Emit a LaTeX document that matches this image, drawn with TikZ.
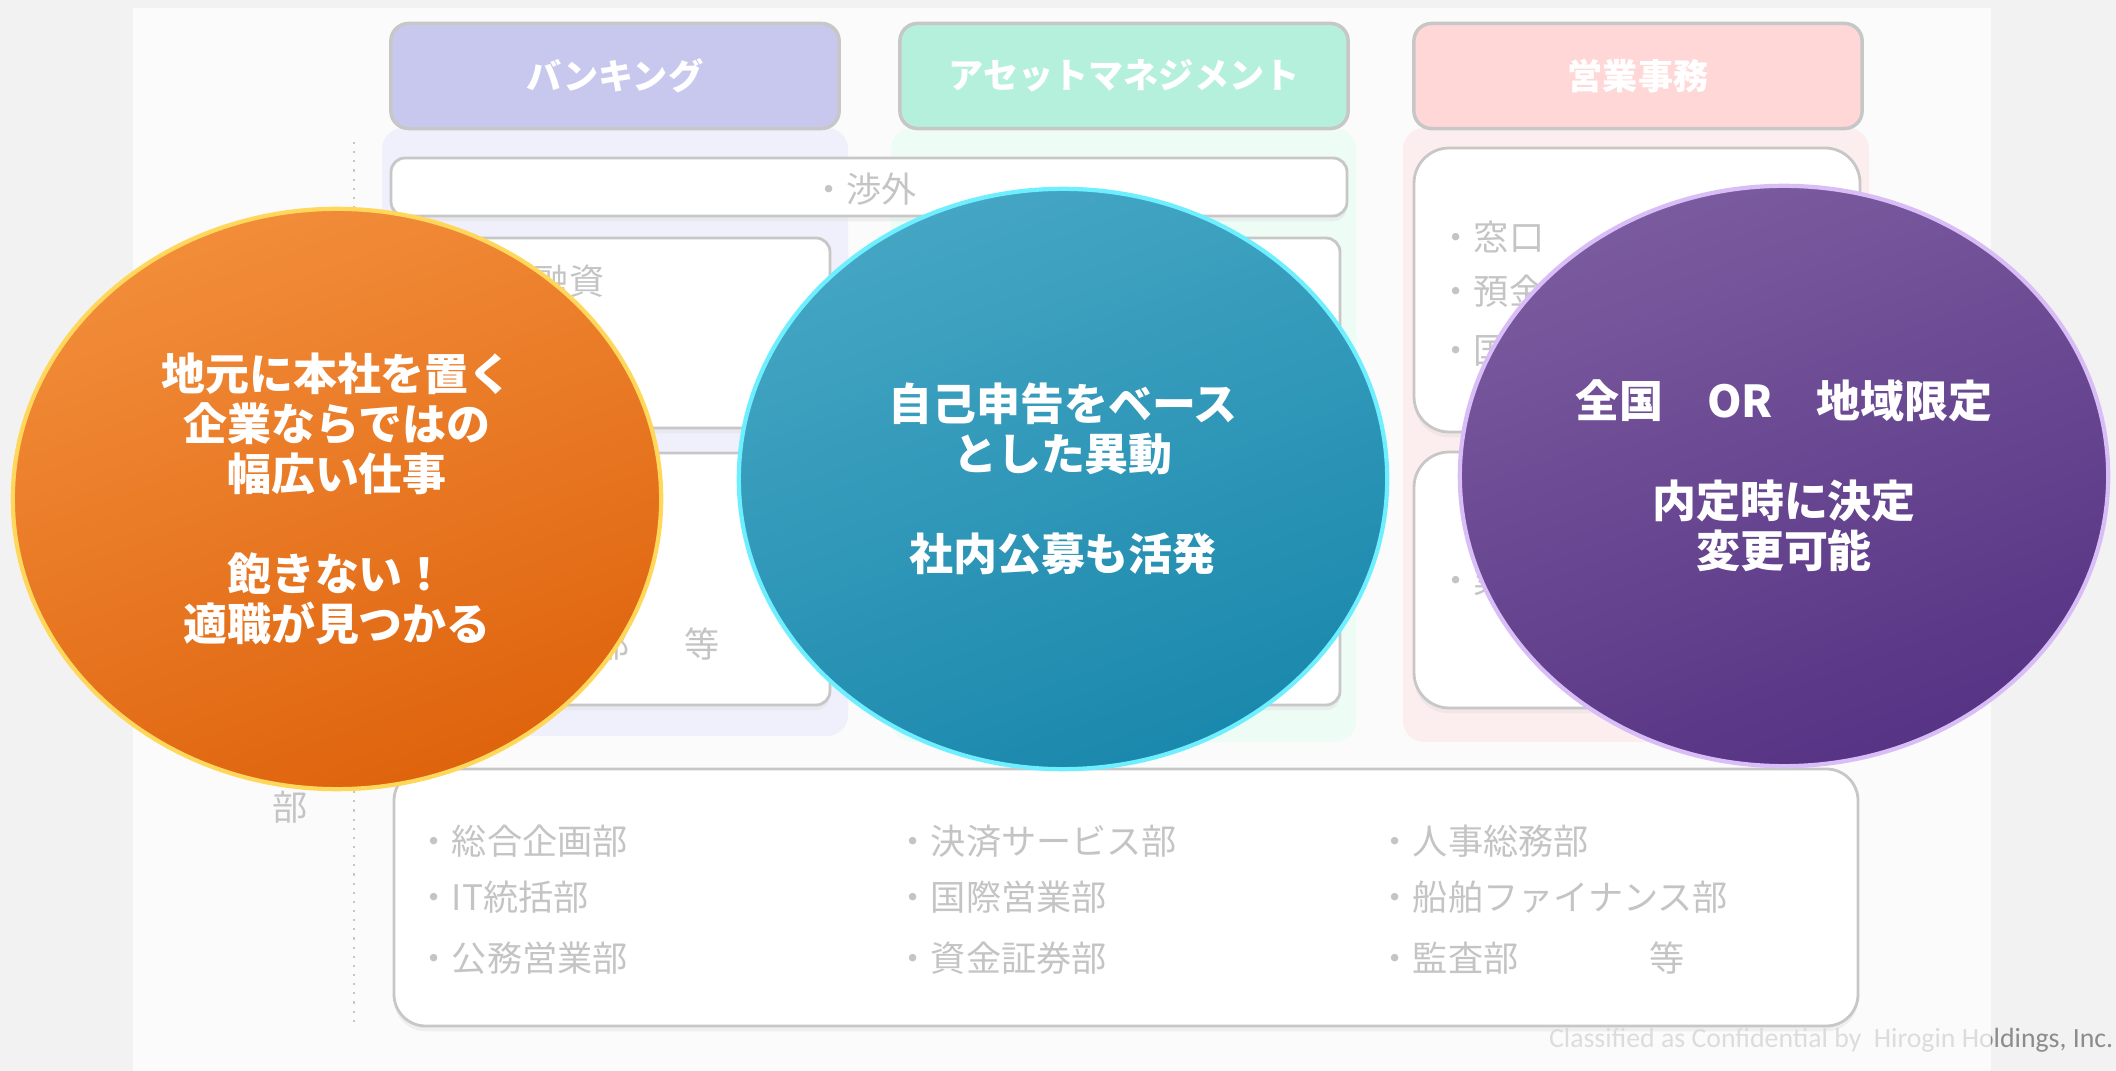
\documentclass[tikz,border=0pt]{standalone}
\usepackage{fontspec}
\setsansfont{Carlito}
\newfontfamily\jp{Noto Sans CJK JP}
\usetikzlibrary{shapes.geometric,shadows}
% colours under the white veil
\definecolor{pagebg}{HTML}{F2F2F2}
\definecolor{bankhd}{RGB}{72,72,200}
\definecolor{assethd}{RGB}{5,205,138}
\definecolor{saleshd}{RGB}{255,122,122}
\definecolor{bankcol}{RGB}{205,205,245}
\definecolor{assetcol}{RGB}{198,245,225}
\definecolor{salescol}{RGB}{248,198,198}
\definecolor{boxline}{RGB}{70,70,70}
\definecolor{boxtext}{RGB}{60,60,60}
\definecolor{foot}{RGB}{140,140,140}
% bubbles
\definecolor{orgtop}{HTML}{F28D3A}
\definecolor{orgbot}{HTML}{DF630D}
\definecolor{orgedge}{HTML}{FFD75A}
\definecolor{teatop}{HTML}{45A6C4}
\definecolor{teabot}{HTML}{1A88AC}
\definecolor{teaedge}{HTML}{6EEFFF}
\definecolor{purtop}{HTML}{7B5B9F}
\definecolor{purbot}{HTML}{563384}
\definecolor{puredge}{HTML}{D9BDF7}
\tikzset{
  head/.style={draw=boxline, line width=1pt, rounded corners=5pt, minimum width=4.48cm,
    minimum height=1.05cm, text=white, font=\jp\bfseries\fontsize{10pt}{12pt}\selectfont},
  colbg/.style={rounded corners=6pt},
  box/.style={draw=boxline, fill=white, line width=.8pt, rounded corners=4pt,
    drop shadow={shadow xshift=0pt, shadow yshift=-1.5pt, opacity=.35}},
  item/.style={anchor=west, inner sep=0pt, text=boxtext, font=\jp\fontsize{10pt}{12pt}\selectfont},
  bubble/.style={ellipse, minimum width=6.48cm, minimum height=5.8cm, inner sep=0pt,
    align=center, text=white, line width=1.2pt,
    font=\jp\bfseries\fontsize{12.5pt}{14.2pt}\selectfont}
}
\begin{document}
\begin{tikzpicture}[x=0.01cm, y=-0.01cm, line join=round]
	\useasboundingbox (0,0) rectangle (2116,1071);
	\fill[pagebg] (0,0) rectangle (2116,1071);
	% columns
	\fill[colbg, bankcol] (382,128) rectangle (848,736);
	\fill[colbg, assetcol] (891,128) rectangle (1356,742);
	\fill[colbg, salescol] (1403,128) rectangle (1869,742);
	\node[head, fill=bankhd] (bank) at (615,76) {バンキング};
	\node[head, fill=assethd] (asset) at (1124,76) {アセットマネジメント};
	\node[head, fill=saleshd] (sales) at (1638,76) {営業事務};
	% boxes
	\draw[box] (391,158) rectangle (1347,216);
	\draw[box] (391,238) rectangle (830,428);
	\draw[box] (391,453) rectangle (830,705);
	\draw[box] (900,238) rectangle (1340,705);
	\draw[box, rounded corners=10pt] (1414,148) rectangle (1860,432);
	\draw[box, rounded corners=10pt] (1414,452) rectangle (1860,708);
	\draw[box, rounded corners=9pt] (394,769) rectangle (1858,1026);
	\draw[boxline, dotted, line width=.6pt] (354,142) -- (354,1026);
	% items
	\node[item, anchor=center] (shogai) at (864,189) {・渉外};
	\node[item] (yushi) at (498,281) {・融資};
	\node[item] (bu) at (594,644) {部\hspace{.55cm}等};
	\foreach \n/\t/\y in {mado/窓口/237, yokin/預金/291, koku/国/351}
		\node[item] (\n) at (1438,\y) {・\t};
	\node[item] (gyo) at (1438,580) {・業務};
	\node[item, anchor=center] (hq) at (290,807) {部};
	\foreach \n/\t/\x/\y in {b1/総合企画部/416/841, b2/IT統括部/416/897, b3/公務営業部/416/958,
		b4/決済サービス部/895/841, b5/国際営業部/895/897, b6/資金証券部/895/958,
		b7/人事総務部/1377/841, b8/船舶ファイナンス部/1377/897, b9/監査部/1377/958}
		\node[item] (\n) at (\x,\y) {・\t};
	\node[item] (etc) at (1649,958) {等};
	\node[anchor=east, inner sep=0pt, text=foot, font=\sffamily\fontsize{7.9pt}{9pt}\selectfont] (conf)
		at (2114,1040) {Classified as Confidential by\ \ Hirogin Holdings, Inc.};
	% veil
	\fill[white, opacity=.7] (133,8) rectangle (1991,1071);
	% bubbles
	\node[bubble, top color=orgtop, bottom color=orgbot, shading angle=20, draw=orgedge] (local) at (337,499)
		{地元に本社を置く\\企業ならではの\\幅広い仕事\\[.5cm]飽きない！\\適職が見つかる};
	\node[bubble, top color=teatop, bottom color=teabot, shading angle=20, draw=teaedge] (move) at (1063,479)
		{自己申告をベース\\とした異動\\[.5cm]社内公募も活発};
	\node[bubble, top color=purtop, bottom color=purbot, shading angle=20, draw=puredge] (area) at (1784,476)
		{全国　OR　地域限定\\[.5cm]内定時に決定\\変更可能};
\end{tikzpicture}
\end{document}
